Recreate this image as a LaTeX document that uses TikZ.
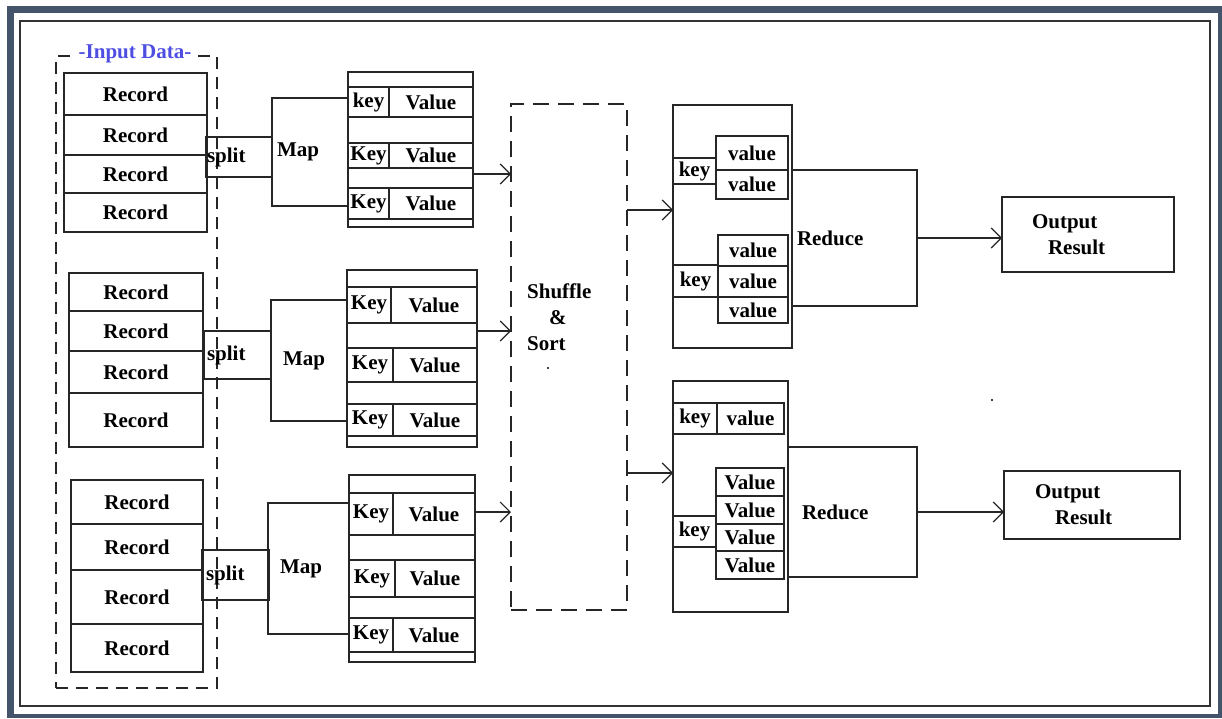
\documentclass[tikz,border=0pt]{standalone}
\usepackage{fontspec}
\setmainfont{Liberation Serif}
\definecolor{frameslate}{RGB}{68,84,106}
\definecolor{inblue}{RGB}{78,78,226}
\usepackage{tikz}
\usetikzlibrary{arrows.meta,positioning}

\begin{document}
\begin{tikzpicture}[x=1pt,y=-1pt,
  cell/.style={draw=black!85,line width=1.3pt,rectangle,anchor=north west,inner sep=0pt,outer sep=0pt,font=\rmfamily\fontsize{21}{26}\selectfont\bfseries},
  lcell/.style={cell,align=left},
  dashbox/.style={cell,dash pattern=on 12pt off 8pt},
  arr/.style={-{Straight Barb[length=10pt,width=20pt]},line width=1.2pt,black!85}]
\useasboundingbox (0,0) rectangle (1222,718);
% frame
\fill[white] (0,0) rectangle (1222,718);
\fill[frameslate] (7,6) rectangle (1222,718);
\fill[white] (14,13) rectangle (1218,714);
\draw[black!80,line width=2.2pt] (20,21) rectangle (1210,706);

% input data
\node[dashbox,minimum width=161,minimum height=632] (inp) at (56,56) {};
\node[fill=white,inner xsep=2pt,inner ysep=1pt,text=inblue,font=\rmfamily\fontsize{21}{24}\selectfont\bfseries] (inlabel) at (135,54) {-Input Data-};

\node[cell,minimum width=143,minimum height=42] (rec11) at (64,73) {Record};
\node[cell,minimum width=143,minimum height=40] (rec12) at (64,115) {Record};
\node[cell,minimum width=143,minimum height=38] (rec13) at (64,155) {Record};
\node[cell,minimum width=143,minimum height=39] (rec14) at (64,193) {Record};

\node[cell,minimum width=134,minimum height=38] (rec21) at (69,273) {Record};
\node[cell,minimum width=134,minimum height=40] (rec22) at (69,311) {Record};
\node[cell,minimum width=134,minimum height=42] (rec23) at (69,351) {Record};
\node[cell,minimum width=134,minimum height=54] (rec24) at (69,393) {Record};

\node[cell,minimum width=132,minimum height=44] (rec31) at (71,480) {Record};
\node[cell,minimum width=132,minimum height=46] (rec32) at (71,524) {Record};
\node[cell,minimum width=132,minimum height=54] (rec33) at (71,570) {Record};
\node[cell,minimum width=132,minimum height=48] (rec34) at (71,624) {Record};

% split and map
\node[lcell,minimum width=66,minimum height=40,inner xsep=1pt,text width=64] (sp1) at (206,137) {split};
\node[lcell,minimum width=67,minimum height=48,inner xsep=3pt,text width=61] (sp2) at (204,331) {split};
\node[lcell,minimum width=67,minimum height=50,inner xsep=4pt,text width=59] (sp3) at (202,550) {split};

\node[lcell,minimum width=76,minimum height=108,inner xsep=5pt,text width=66] (map1) at (272,98) {Map};
\node[lcell,minimum width=76,minimum height=121,inner xsep=12pt,text width=52] (map2) at (271,300) {Map};
\node[lcell,minimum width=81,minimum height=131,inner xsep=12pt,text width=57] (map3) at (268,503) {Map};

% key value lists
\node[cell,minimum width=125,minimum height=155] (kv1) at (348,72) {};
\node[cell,minimum width=41,minimum height=30] (k11) at (348,87) {key};
\node[cell,minimum width=84,minimum height=30] (v11) at (389,87) {Value};
\node[cell,minimum width=41,minimum height=25] (k12) at (348,143) {Key};
\node[cell,minimum width=84,minimum height=25] (v12) at (389,143) {Value};
\node[cell,minimum width=41,minimum height=31] (k13) at (348,188) {Key};
\node[cell,minimum width=84,minimum height=31] (v13) at (389,188) {Value};

\node[cell,minimum width=130,minimum height=177] (kv2) at (347,270) {};
\node[cell,minimum width=44,minimum height=36] (k21) at (347,287) {Key};
\node[cell,minimum width=86,minimum height=36] (v21) at (391,287) {Value};
\node[cell,minimum width=46,minimum height=34] (k22) at (347,348) {Key};
\node[cell,minimum width=84,minimum height=34] (v22) at (393,348) {Value};
\node[cell,minimum width=46,minimum height=32] (k23) at (347,404) {Key};
\node[cell,minimum width=84,minimum height=32] (v23) at (393,404) {Value};

\node[cell,minimum width=126,minimum height=187] (kv3) at (349,475) {};
\node[cell,minimum width=44,minimum height=42] (k31) at (349,493) {Key};
\node[cell,minimum width=82,minimum height=42] (v31) at (393,493) {Value};
\node[cell,minimum width=46,minimum height=37] (k32) at (349,560) {Key};
\node[cell,minimum width=80,minimum height=37] (v32) at (395,560) {Value};
\node[cell,minimum width=44,minimum height=34] (k33) at (349,618) {Key};
\node[cell,minimum width=82,minimum height=34] (v33) at (393,618) {Value};

% shuffle
\node[dashbox,dash pattern=on 16pt off 9pt,minimum width=116,minimum height=506] (sh) at (511,104) {};
\node[anchor=west,align=left,inner sep=0pt,font=\rmfamily\fontsize{21}{26}\selectfont\bfseries] (shtxt) at (527,317) {Shuffle\\\hspace*{22pt}\&\\Sort};
\fill (548,368) circle (1.1);

\coordinate (a1) at (kv1.east |- 0,174);
\coordinate (a2) at (kv2.east |- 0,331);
\coordinate (a3) at (kv3.east |- 0,512);
\draw[arr] (a1) -- (a1 -| sh.west);
\draw[arr] (a2) -- (a2 -| sh.west);
\draw[arr] (a3) -- (a3 -| sh.west);

% reducers
\node[cell,minimum width=119,minimum height=243] (red1) at (673,105) {};
\node[cell,minimum width=43,minimum height=26] (rk11) at (673,158) {key};
\node[cell,minimum width=72,minimum height=34] (rv11) at (716,136) {value};
\node[cell,minimum width=72,minimum height=29] (rv12) at (716,170) {value};
\node[cell,minimum width=45,minimum height=32] (rk12) at (673,265) {key};
\node[cell,minimum width=70,minimum height=31] (rv13) at (718,235) {value};
\node[cell,minimum width=70,minimum height=31] (rv14) at (718,266) {value};
\node[cell,minimum width=70,minimum height=26] (rv15) at (718,297) {value};
\node[lcell,minimum width=125,minimum height=136,inner xsep=5pt,text width=115] (rd1) at (792,170) {Reduce};

\node[cell,minimum width=115,minimum height=231] (red2) at (673,381) {};
\node[cell,minimum width=44,minimum height=31] (rk21) at (673,403) {key};
\node[cell,minimum width=67,minimum height=31] (rv21) at (717,403) {value};
\node[cell,minimum width=43,minimum height=31] (rk22) at (673,516) {key};
\node[cell,minimum width=68,minimum height=28] (rv22) at (716,468) {Value};
\node[cell,minimum width=68,minimum height=28] (rv23) at (716,496) {Value};
\node[cell,minimum width=68,minimum height=27] (rv24) at (716,524) {Value};
\node[cell,minimum width=68,minimum height=28] (rv25) at (716,551) {Value};
\node[lcell,minimum width=129,minimum height=130,inner xsep=14pt,text width=101] (rd2) at (788,447) {Reduce};

\coordinate (b1) at (sh.east |- 0,210);
\coordinate (b2) at (sh.east |- 0,473);
\draw[arr] (b1) -- (b1 -| red1.west);
\draw[arr] (b2) -- (b2 -| red2.west);

% output
\node[lcell,minimum width=172,minimum height=75,inner xsep=30pt,text width=112] (out1) at (1002,197) {Output\\\hspace*{16pt}Result};
\node[lcell,minimum width=176,minimum height=68,inner xsep=31pt,text width=114] (out2) at (1004,471) {Output\\\hspace*{20pt}Result};
\fill (992,400) circle (1.1);

\draw[arr] (rd1.east) -- (rd1.east -| out1.west);
\draw[arr] (rd2.east) -- (rd2.east -| out2.west);
\end{tikzpicture}
\end{document}
